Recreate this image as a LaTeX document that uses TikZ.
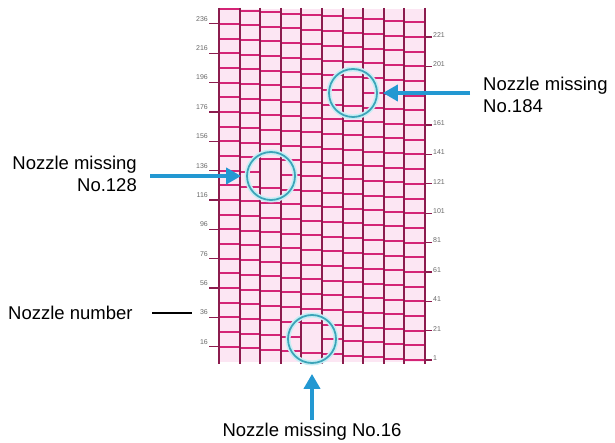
\documentclass[tikz,border=0pt]{standalone}
\usepackage{fontspec}
\setmainfont{Liberation Sans}
\usetikzlibrary{arrows.meta}
\definecolor{hcol}{RGB}{212,36,118}
\definecolor{vcol}{RGB}{140,28,78}
\definecolor{cellbg}{RGB}{252,230,243}
\definecolor{ringcol}{RGB}{60,165,185}
\definecolor{ringglow}{RGB}{200,238,245}
\definecolor{arrowcol}{RGB}{35,152,210}
\definecolor{numcol}{RGB}{105,105,105}
\begin{document}
\begin{tikzpicture}[x=1pt,y=-1pt,
  hline/.style={draw=hcol,line width=2pt},
  vline/.style={draw=vcol,line width=2pt},
  tickline/.style={draw=vcol,line width=1.3pt},
  ring/.style={circle,draw=ringcol,line width=1.8pt,minimum size=48pt,inner sep=0pt},
  glow/.style={draw=ringglow,line width=5pt},
  callout/.style={draw=arrowcol,line width=4pt,-{Triangle[length=15pt,width=16pt]}},
  big/.style={font=\fontsize{18.5}{22}\selectfont,inner sep=0pt},
  num/.style={font=\fontsize{7}{8}\selectfont,text=numcol,inner sep=0pt}]
\useasboundingbox (0,0) rectangle (615,443);
\fill[white] (0,0) rectangle (615,443);
\fill[cellbg] (219,9) rectangle (425,362);
% horizontal nozzle lines (staircase)
\foreach \n in {1,...,240}{
  \pgfmathtruncatemacro\c{mod(\n-1,10)}
  \pgfmathsetmacro\xl{219+20.6*(9-\c)}
  \pgfmathsetmacro\yy{360-(\n-1)*1.468}
  \pgfmathtruncatemacro\gone{(\n==16)||(\n==128)||(\n==184)}
  \ifnum\gone=0 \draw[hline] (\xl,\yy) -- ++(20.6,0);\fi
}
% vertical lines
\foreach \k in {0,...,10}{
  \draw[vline] ({219+20.6*\k},8) -- ({219+20.6*\k},364);
}
% left ticks and labels
\foreach \k in {0,...,11}{
  \pgfmathsetmacro\yy{360-(9+20*\k)*1.468}
  \pgfmathtruncatemacro\lab{16+20*\k}
  \draw[tickline] (209,\yy) -- (219,\yy);
  \node[num,anchor=east] (l\lab) at (208,\yy-5) {\lab};
}
% right ticks and labels
\foreach \k in {0,...,11}{
  \pgfmathsetmacro\yy{360-(20*\k)*1.468}
  \pgfmathtruncatemacro\lab{1+20*\k}
  \ifnum\k=9\else
  \draw[tickline] (425,\yy) -- (432,\yy);
  \node[num,anchor=west] (r\lab) at (433,\yy-2) {\lab};
  \fi
}
% rings with a faint halo
\foreach \p/\q in {312/339,271/176,353/93}{
  \draw[glow] (\p,\q) circle[radius=24pt];
}
\node[ring] (c16) at (312,339) {};
\node[ring] (c128) at (271,176) {};
\node[ring] (c184) at (353,93) {};
% callout arrows
\coordinate (ra) at (470,93);
\coordinate (la) at (150,176);
\coordinate (ba) at (312,420);
\draw[callout,shorten >=5pt] (ra) -- (c184);
\draw[callout,shorten >=5pt] (la) -- (c128);
\draw[callout,shorten >=10pt] (ba) -- (c16);
% texts
\node[big,anchor=west,align=left] (t184) at (483,95) {Nozzle missing\\No.184};
\node[big,anchor=east,align=right] (t128) at (137,174) {Nozzle missing\\No.128};
\node[big,anchor=west] (tnum) at (8,313) {Nozzle number};
\coordinate (nl) at (152,313);
\coordinate (nr) at (192,313);
\draw[line width=2.5pt] (nl) -- (nr);
\node[big] (t16) at (312,432) {Nozzle missing No.16};
\end{tikzpicture}
\end{document}
